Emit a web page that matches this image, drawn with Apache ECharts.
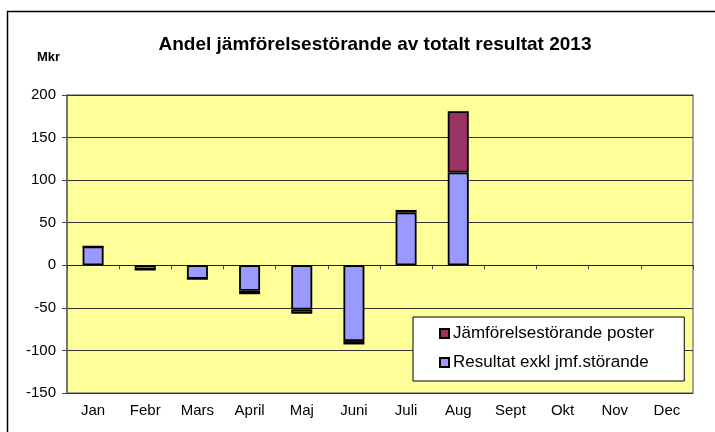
<!DOCTYPE html>
<html>
<head>
<meta charset="utf-8">
<script src="https://cdn.jsdelivr.net/npm/echarts@6/dist/echarts.min.js"></script>
<style>
  html, body { margin: 0; padding: 0; background: #fff; }
  #chart { width: 715px; height: 432px; }
</style>
</head>
<body>
<div id="chart"></div>
<script>
var months = ['Jan', 'Febr', 'Mars', 'April', 'Maj', 'Juni', 'Juli', 'Aug', 'Sept', 'Okt', 'Nov', 'Dec'];
var resultat = [22, -5, -16, -30, -52, -89, 62, 109, null, null, null, null];
var jamforelse = [0, 0, 0, -4, -5, -4, 3, 72, null, null, null, null];
var yTicks = [-150, -100, -50, 0, 50, 100, 150, 200];

var font = 'Liberation Sans, Arial, sans-serif';
var chart = echarts.init(document.getElementById('chart'), null, { renderer: 'canvas' });

chart.setOption({
  animation: false,
  textStyle: { fontFamily: font },
  title: {
    text: 'Andel jämförelsestörande av totalt resultat 2013',
    left: 370,
    textAlign: 'center',
    top: 30,
    textStyle: { fontSize: 19, fontWeight: 'bold', color: '#000', fontFamily: font }
  },
  graphic: [
    { type: 'rect', shape: { x: 7.5, y: 11.5, width: 720, height: 440 }, style: { fill: 'none', stroke: '#000', lineWidth: 1.5 }, z: -1 },
    { type: 'text', left: 37, top: 51, style: { text: 'Mkr', font: 'bold 13px ' + font, fill: '#000' } }
  ],
  grid: {
    left: 67, right: 22, top: 95, bottom: 39,
    show: true,
    backgroundColor: '#FFFF99',
    borderColor: '#888',
    borderWidth: 1.5
  },
  legend: {
    data: ['Jämförelsestörande poster', 'Resultat exkl jmf.störande'],
    orient: 'vertical',
    left: 413,
    top: 317,
    padding: [8, 30, 10, 26],
    itemGap: 12,
    itemWidth: 9,
    itemHeight: 9,
    backgroundColor: '#fff',
    borderColor: '#000',
    borderWidth: 1,
    icon: 'rect',
    textStyle: { fontSize: 17, color: '#000', fontFamily: font, padding: [0, 0, 0, -1] }
  },
  xAxis: {
    type: 'category',
    data: months,
    axisLine: { onZero: true, lineStyle: { color: '#222', width: 1 } },
    axisTick: { show: true, length: 4, inside: false, lineStyle: { color: '#444' } },
    axisLabel: { color: '#000', fontSize: 15, margin: 10, fontFamily: font },
    position: 'bottom'
  },
  yAxis: {
    type: 'value',
    min: yTicks[0],
    max: yTicks[yTicks.length - 1],
    interval: 50,
    axisLine: { show: true, lineStyle: { color: '#666', width: 1.5 } },
    axisTick: { show: true, length: 5, lineStyle: { color: '#444' } },
    axisLabel: { color: '#000', fontSize: 15, margin: 11, fontFamily: font },
    splitLine: { lineStyle: { color: '#333', width: 1 } }
  },
  series: [
    {
      name: 'Resultat exkl jmf.störande',
      type: 'bar',
      stack: 'tot',
      barWidth: 21,
      data: resultat,
      itemStyle: { color: '#9999FF', borderColor: '#000', borderWidth: 1.8 }
    },
    {
      name: 'Jämförelsestörande poster',
      type: 'bar',
      stack: 'tot',
      barWidth: 21,
      data: jamforelse,
      itemStyle: { color: '#993366', borderColor: '#000', borderWidth: 1.8 }
    }
  ]
});
</script>
</body>
</html>
